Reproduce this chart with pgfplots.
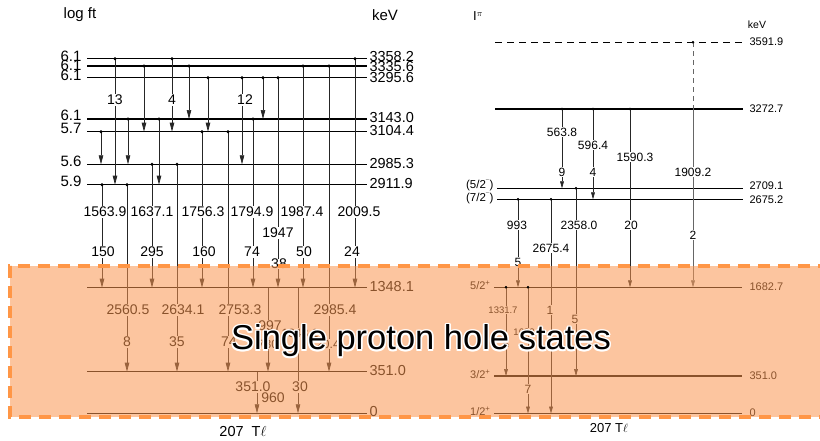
\documentclass[border=0pt]{standalone}
\usepackage{pgfplots}
\pgfplotsset{compat=1.18}
\usepackage{fontspec}
\setmainfont{Liberation Sans}
\usetikzlibrary{arrows.meta}
\definecolor{ovl}{RGB}{250,150,80}
\definecolor{ovlborder}{RGB}{255,150,70}
\newcommand\fs[1]{\fontsize{#1}{#1}\selectfont}
\tikzset{
 lev/.style={black,line width=1.2pt},
 levr/.style={black,line width=1.1pt},
 tr/.style={black!85,line width=0.7pt,-{Triangle[length=9pt,width=4.5pt]}},
 trs/.style={black!85,line width=0.6pt,-{Triangle[length=7pt,width=3.8pt]}},
 dots/.style={only marks,mark=*,mark size=1.3pt,black},
 lab/.style={font=\fs{14},inner sep=1pt,fill=white},
 labr/.style={font=\fs{12},inner sep=1pt,fill=white},
 ttl/.style={font=\fs{34.5}},
}
\begin{document}
\begin{tikzpicture}
\begin{axis}[width=820pt,height=440pt,scale only axis,xmin=0,xmax=820,ymin=0,ymax=440,
 y dir=reverse,hide axis,clip=false]
% ---------------- left scheme: levels
\addplot[lev] coordinates {(87,58.7) (367,58.7)};
\addplot[lev] coordinates {(87,66) (367,66)};
\addplot[lev] coordinates {(87,77.7) (367,77.7)};
\addplot[lev] coordinates {(87,119) (367,119)};
\addplot[lev] coordinates {(87,131.7) (367,131.7)};
\addplot[lev] coordinates {(87,164.3) (367,164.3)};
\addplot[lev] coordinates {(87,184.7) (367,184.7)};
\addplot[lev] coordinates {(87,287.7) (367,287.7)};
\addplot[lev] coordinates {(87,371.7) (367,371.7)};
\addplot[lev] coordinates {(87,413.3) (367,413.3)};
% transitions (x, from, to)
\addplot[tr] coordinates {(115,58.7) (115,184.7)};
\addplot[tr] coordinates {(144,66) (144,131.7)};
\addplot[tr] coordinates {(172,58.7) (172,131.7)};
\addplot[tr] coordinates {(189,66) (189,119)};
\addplot[tr] coordinates {(208,77.7) (208,131.7)};
\addplot[tr] coordinates {(242,77.7) (242,164.3)};
\addplot[tr] coordinates {(263,77.7) (263,119)};
\addplot[tr] coordinates {(278,77.7) (278,287.7)};
\addplot[tr] coordinates {(303,66) (303,287.7)};
\addplot[tr] coordinates {(329,66) (329,371.7)};
\addplot[tr] coordinates {(355,58.7) (355,287.7)};
\addplot[tr] coordinates {(101,131.7) (101,164.3)};
\addplot[tr] coordinates {(128,119) (128,164.3)};
\addplot[tr] coordinates {(159,119) (159,184.7)};
\addplot[tr] coordinates {(102,184.7) (102,287.7)};
\addplot[tr] coordinates {(127,184.7) (127,371.7)};
\addplot[tr] coordinates {(152,164.3) (152,287.7)};
\addplot[tr] coordinates {(177,164.3) (177,371.7)};
\addplot[tr] coordinates {(202,131.7) (202,287.7)};
\addplot[tr] coordinates {(228,131.7) (228,371.7)};
\addplot[tr] coordinates {(253,119) (253,287.7)};
\addplot[tr] coordinates {(268,287.7) (268,371.7)};
\addplot[tr] coordinates {(298,287.7) (298,413.3)};
\addplot[tr] coordinates {(257,371.7) (257,413.3)};
\addplot[dots] coordinates {(115,58.7) (144,66) (172,58.7) (189,66) (208,77.7) (242,77.7) (263,77.7)
 (278,77.7) (303,66) (329,66) (355,58.7) (101,131.7) (128,119) (159,119) (102,184.7) (127,184.7)
 (152,164.3) (177,164.3) (202,131.7) (228,131.7) (253,119)};
% level labels
\node[anchor=west,font=\fs{14.5}] at (366,57) {3358.2};
\node[anchor=west,font=\fs{14.5}] at (366,67) {3335.6};
\node[anchor=west,font=\fs{14.5}] at (366,77.5) {3295.6};
\node[anchor=west,font=\fs{14.5}] at (366,118) {3143.0};
\node[anchor=west,font=\fs{14.5}] at (366,130.5) {3104.4};
\node[anchor=west,font=\fs{14.5}] at (366,163.5) {2985.3};
\node[anchor=west,font=\fs{14.5}] at (366,184) {2911.9};
\node[anchor=west,font=\fs{14.5}] at (366,287) {1348.1};
\node[anchor=west,font=\fs{14.5}] at (366,371) {351.0};
\node[anchor=west,font=\fs{14.5}] at (366,412) {0};
\node[anchor=east,font=\fs{15}] at (85,56) {6.1};
\node[anchor=east,font=\fs{15}] at (85,65.5) {6.1};
\node[anchor=east,font=\fs{15}] at (85,75.5) {6.1};
\node[anchor=east,font=\fs{15}] at (85,115.5) {6.1};
\node[anchor=east,font=\fs{15}] at (85,128) {5.7};
\node[anchor=east,font=\fs{15}] at (85,161) {5.6};
\node[anchor=east,font=\fs{15}] at (85,181.5) {5.9};
\node[font=\fs{15}] at (80,15) {log ft};
\node[font=\fs{15}] at (385,15) {keV};
% transition labels
\node[lab] at (115,100) {13};
\node[lab] at (172,100) {4};
\node[lab] at (245,100) {12};
\node[lab] at (105,212) {1563.9};
\node[lab] at (152,212) {1637.1};
\node[lab] at (203,212) {1756.3};
\node[lab] at (252,212) {1794.9};
\node[lab] at (302,212) {1987.4};
\node[lab] at (359,212) {2009.5};
\node[lab] at (278,233) {1947};
\node[lab] at (103,252) {150};
\node[lab] at (152,252) {295};
\node[lab] at (204,252) {160};
\node[lab] at (252,252) {74};
\node[lab] at (304,252) {50};
\node[lab] at (352,252) {24};
\node[lab,inner sep=0.5pt] at (279,264) {38};
\node[lab] at (128,310) {2560.5};
\node[lab] at (183,310) {2634.1};
\node[lab] at (240,310) {2753.3};
\node[lab] at (335,310) {2985.4};
\node[lab] at (270,326) {997};
\node[lab] at (127,342) {8};
\node[lab] at (177,342) {35};
\node[lab] at (229,342) {74};
\node[lab,font=\fs{12}] at (268,344) {780};
\node[lab,font=\fs{12}] at (300,333) {1348.1};
\node[lab,font=\fs{12}] at (328,344) {20.4};
\node[lab] at (253,387) {351.0};
\node[lab] at (300,387) {30};
\node[lab] at (273,398) {960};
\node[font=\fs{14.5},inner sep=0pt] at (243,432) {207\ \ T$\ell$};
% ---------------- right scheme: levels
\addplot[levr,dash pattern=on 7pt off 5pt] coordinates {(495,42.3) (743,42.3)};
\addplot[levr] coordinates {(495,109) (743,109)};
\addplot[levr] coordinates {(497,188.3) (743,188.3)};
\addplot[levr] coordinates {(497,199.3) (743,199.3)};
\addplot[levr] coordinates {(494,287.3) (742,287.3)};
\addplot[levr] coordinates {(494,376) (742,376)};
\addplot[levr] coordinates {(494,413.5) (742,413.5)};
% transitions
\addplot[trs] coordinates {(562,109) (562,188.3)};
\addplot[trs] coordinates {(593,109) (593,199.3)};
\addplot[trs] coordinates {(630,109) (630,287.3)};
\addplot[black!60,line width=0.6pt,dash pattern=on 5pt off 4pt] coordinates {(693,42.3) (693,109)};
\addplot[trs,black!60] coordinates {(693,109) (693,287.3)};
\addplot[trs] coordinates {(518,199.3) (518,287.3)};
\addplot[trs] coordinates {(551,199.3) (551,413.5)};
\addplot[trs] coordinates {(576,188.3) (576,376)};
\addplot[trs] coordinates {(506,287.3) (506,376)};
\addplot[trs] coordinates {(528,287.3) (528,413.5)};
\addplot[dots,mark size=1.1pt] coordinates {(562,109) (593,109) (630,109) (693,42.3) (518,199.3)
 (551,199.3) (576,188.3) (506,287.3) (528,287.3)};
% labels
\node[font=\fs{13}] at (478,16) {I\textsuperscript{$\pi$}};
\node[font=\fs{10.5}] at (757,25) {keV};
\node[anchor=west,font=\fs{11}] at (746,42) {3591.9};
\node[anchor=west,font=\fs{11}] at (746,109) {3272.7};
\node[anchor=west,font=\fs{11}] at (746,186) {2709.1};
\node[anchor=west,font=\fs{11}] at (746,200) {2675.2};
\node[anchor=west,font=\fs{11}] at (746,287) {1682.7};
\node[anchor=west,font=\fs{11}] at (746,376) {351.0};
\node[anchor=west,font=\fs{11}] at (746,413) {0};
\node[anchor=east,font=\fs{11.5}] at (497,185.5) {(5/2$^{\bar{\ }}$)};
\node[anchor=east,font=\fs{11.5}] at (497,198.5) {(7/2$^{\bar{\ }}$)};
\node[anchor=east,font=\fs{11}] at (494,285) {5/2\textsuperscript{+}};
\node[anchor=east,font=\fs{11}] at (494,374) {3/2\textsuperscript{+}};
\node[anchor=east,font=\fs{11}] at (494,411) {1/2\textsuperscript{+}};
\node[labr] at (562,132) {563.8};
\node[labr] at (562,172) {9};
\node[labr] at (593,145) {596.4};
\node[labr] at (593,172) {4};
\node[labr] at (635,157) {1590.3};
\node[labr] at (693,172) {1909.2};
\node[labr] at (517,225) {993};
\node[labr] at (579,225) {2358.0};
\node[labr] at (631,225) {20};
\node[labr] at (693,235) {2};
\node[labr] at (551,248) {2675.4};
\node[labr] at (518,262) {5};
\node[labr,font=\fs{9.5}] at (503,310) {1331.7};
\node[labr] at (550,310) {1};
\node[labr] at (575,319) {5};
\node[labr,font=\fs{9.5}] at (528,332) {1682.7};
\node[labr] at (506,344) {5};
\node[labr] at (528,389) {7};
\node[font=\fs{13},inner sep=0pt] at (609,428) {207 T$\ell$};
% ---------------- overlay
\fill[ovl,opacity=0.55] (10,266) rectangle (820,417);
\draw[ovlborder,line width=4pt,dash pattern=on 12pt off 8pt] (830,266) -- (10,266) -- (10,417) -- (830,417);
\node[ttl,white,xshift=1.6pt] at (421,341) {Single proton hole states};
\node[ttl,white,xshift=-1.6pt] at (421,341) {Single proton hole states};
\node[ttl,white,yshift=1.6pt] at (421,341) {Single proton hole states};
\node[ttl,white,yshift=-1.6pt] at (421,341) {Single proton hole states};
\node[ttl,white,xshift=1.1pt,yshift=1.1pt] at (421,341) {Single proton hole states};
\node[ttl,white,xshift=-1.1pt,yshift=1.1pt] at (421,341) {Single proton hole states};
\node[ttl,white,xshift=1.1pt,yshift=-1.1pt] at (421,341) {Single proton hole states};
\node[ttl,white,xshift=-1.1pt,yshift=-1.1pt] at (421,341) {Single proton hole states};
\node[ttl,black] at (421,341) {Single proton hole states};
\end{axis}
\pgfresetboundingbox
\path (0,0) rectangle (820pt,440pt);
\end{tikzpicture}
\end{document}
